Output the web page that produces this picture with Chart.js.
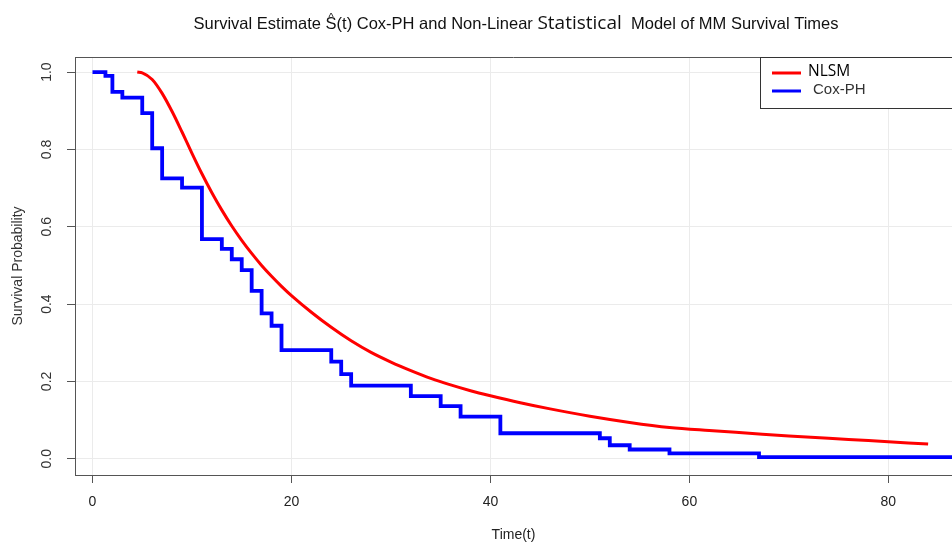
<!DOCTYPE html>
<html>
<head>
<meta charset="utf-8">
<script src="https://cdn.jsdelivr.net/npm/chart.js@4.4.0/dist/chart.umd.min.js"></script>
<style>
html, body { margin: 0; padding: 0; background: #fff; }
</style>
</head>
<body>
<canvas id="survChart" width="952" height="544"></canvas>
<script>
// Cox-PH step curve (time of drop, survival after drop)
let coxTimes = [0, 1.3, 2, 3, 5, 6, 7, 9, 11, 13, 14, 15, 16, 17, 18, 19, 24, 25, 26, 32, 35, 37, 41, 51, 52, 54, 58, 67, 90]
let coxSurv = [1.0, 0.99, 0.949, 0.934, 0.894, 0.803, 0.725, 0.701, 0.568, 0.543, 0.516, 0.488, 0.434, 0.376, 0.344, 0.281, 0.251, 0.219, 0.189, 0.162, 0.136, 0.109, 0.066, 0.053, 0.035, 0.024, 0.014, 0.004, 0.004]

// NLSM fitted curve
let nlsmTimes = [4.5, 5, 6, 7, 8, 9, 10, 11, 12, 13, 14, 15, 16, 17, 18, 19, 20, 22, 24, 26, 28, 30, 32, 34, 36, 38, 40, 43, 46, 50, 54, 58, 62, 66, 70, 74, 78, 82, 84]
let nlsmSurv = [1.0, 0.998, 0.981, 0.945, 0.898, 0.845, 0.790, 0.737, 0.688, 0.643, 0.602, 0.565, 0.531, 0.500, 0.472, 0.446, 0.422, 0.379, 0.340, 0.305, 0.275, 0.250, 0.228, 0.208, 0.191, 0.176, 0.163, 0.145, 0.129, 0.110, 0.094, 0.081, 0.073, 0.066, 0.059, 0.053, 0.047, 0.041, 0.038]

let xTicks = [0, 20, 40, 60, 80]
let yTicks = [0, 0.2, 0.4, 0.6, 0.8, 1.0]
let yTickLabels = ["0.0", "0.2", "0.4", "0.6", "0.8", "1.0"]

let seriesNames = ["NLSM", "Cox-PH"]
let seriesColors = ["#ff0000", "#0000ff"]

let arial = "'Liberation Sans', Arial, sans-serif"

// title with the hat on S and the odd bigger "Statistical"
let titlePlugin = {
	id: 'titleDraw',
	afterDraw(chart) {
		let ctx = chart.ctx
		let parts = [
			{ t: "Survival Estimate ", f: "16.5px " + arial },
			{ t: "S", f: "16.5px " + arial, hat: true },
			{ t: "(t) Cox-PH and Non-Linear ", f: "16.5px " + arial },
			{ t: "Statistical", f: "19px 'Open Sans', sans-serif" },
			{ t: "  Model of MM Survival Times", f: "16.5px " + arial }
		]
		ctx.save()
		let total = 0
		parts.forEach(p => { ctx.font = p.f; p.w = ctx.measureText(p.t).width; total += p.w })
		let x = 516 - total / 2
		let base = 29
		ctx.fillStyle = "#111"
		ctx.textBaseline = "alphabetic"
		ctx.textAlign = "left"
		parts.forEach(p => {
			ctx.font = p.f
			ctx.fillText(p.t, x, base)
			if (p.hat) {
				ctx.font = "11px " + arial
				ctx.textAlign = "center"
				ctx.fillText("^", x + p.w / 2, base - 8)
				ctx.textAlign = "left"
			}
			x += p.w
		})
		ctx.restore()
	}
}

// box top, y tick labels (rotated like R) and the legend
let framePlugin = {
	id: 'frameDraw',
	afterDraw(chart) {
		let ctx = chart.ctx
		let area = chart.chartArea
		let yScale = chart.scales.y
		ctx.save()
		ctx.strokeStyle = "#555"
		ctx.lineWidth = 1
		ctx.beginPath()
		ctx.moveTo(area.left, area.top + 0.5)
		ctx.lineTo(area.right, area.top + 0.5)
		ctx.stroke()

		ctx.fillStyle = "#333"
		ctx.font = "14px " + arial
		ctx.textAlign = "center"
		ctx.textBaseline = "middle"
		yTicks.forEach((v, i) => {
			let py = yScale.getPixelForValue(v)
			ctx.save()
			ctx.translate(47, py)
			ctx.rotate(-Math.PI / 2)
			ctx.fillText(yTickLabels[i], 0, 0)
			ctx.restore()
		})

		// legend box
		let lx = 760, ly = area.top
		ctx.fillStyle = "#fff"
		ctx.fillRect(lx, ly, area.right - lx + 2, 51)
		ctx.strokeStyle = "#333"
		ctx.strokeRect(lx + 0.5, ly + 0.5, area.right - lx + 2, 51)
		let rows = [ly + 16, ly + 34]
		let fonts = ["15.5px 'Open Sans', sans-serif", "15px " + arial]
		let textX = [808, 813]
		let textCol = ["#000", "#333"]
		seriesNames.forEach((name, i) => {
			ctx.strokeStyle = seriesColors[i]
			ctx.lineWidth = 3
			ctx.beginPath()
			ctx.moveTo(772, rows[i])
			ctx.lineTo(801, rows[i])
			ctx.stroke()
			ctx.fillStyle = textCol[i]
			ctx.font = fonts[i]
			ctx.textAlign = "left"
			ctx.textBaseline = "middle"
			ctx.fillText(name, textX[i], rows[i] - 1)
		})
		ctx.restore()
	}
}

let ctx1 = document.getElementById("survChart").getContext('2d')
var survChart = new Chart(ctx1, {
	type: 'line',
	data: {
		datasets: [{
			label: seriesNames[1],
			data: coxTimes.map((t, i) => ({ x: t, y: coxSurv[i] })),
			borderColor: seriesColors[1],
			borderWidth: 3.8,
			stepped: true,
			pointRadius: 0,
			fill: false
		}, {
			label: seriesNames[0],
			data: nlsmTimes.map((t, i) => ({ x: t, y: nlsmSurv[i] })),
			borderColor: seriesColors[0],
			borderWidth: 3,
			cubicInterpolationMode: 'monotone',
			pointRadius: 0,
			fill: false
		}]
	},
	options: {
		responsive: false,
		animation: false,
		layout: { padding: { top: 57, left: 0, right: 0, bottom: 0 } },
		plugins: {
			legend: { display: false },
			title: { display: false },
			tooltip: { enabled: false }
		},
		scales: {
			x: {
				type: 'linear',
				min: -1.76,
				max: 86.4,
				afterBuildTicks: s => { s.ticks = xTicks.map(v => ({ value: v })) },
				afterFit: s => { s.height = 69 },
				grid: { color: "#ebebeb", tickColor: "#555", tickLength: 8 },
				border: { color: "#555" },
				ticks: { color: "#222", font: { family: arial, size: 14 }, padding: 11, maxRotation: 0 },
				title: { display: true, text: "Time(t)", color: "#222", font: { family: arial, size: 14 }, padding: { top: 0, bottom: 0 } }
			},
			y: {
				type: 'linear',
				min: -0.042,
				max: 1.039,
				afterBuildTicks: s => { s.ticks = yTicks.map(v => ({ value: v })) },
				afterFit: s => { s.width = 75 },
				grid: { color: "#ebebeb", tickColor: "#555", tickLength: 8 },
				border: { color: "#555" },
				ticks: { display: false },
				title: { display: true, text: "Survival Probability", color: "#333", font: { family: arial, size: 14 }, padding: { top: 10, bottom: 0 } }
			}
		}
	},
	plugins: [titlePlugin, framePlugin]
})
</script>
</body>
</html>
